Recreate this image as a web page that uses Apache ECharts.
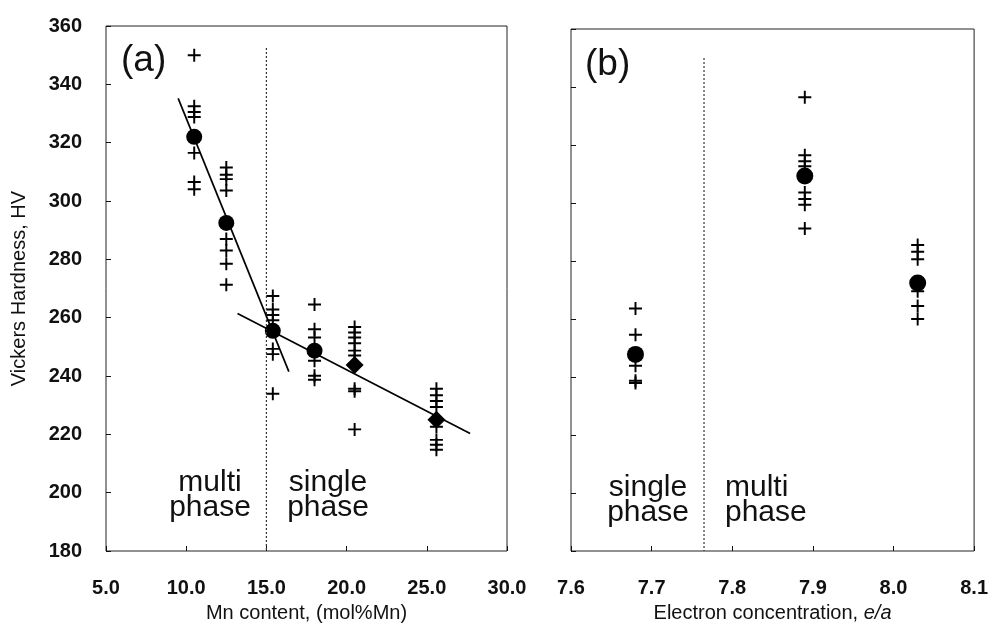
<!DOCTYPE html>
<html>
<head>
<meta charset="utf-8">
<script src="https://cdn.jsdelivr.net/npm/echarts@6/dist/echarts.min.js"></script>
<style>
  html, body { margin: 0; padding: 0; background: #fff; }
  #chart { width: 991px; height: 628px; }
</style>
</head>
<body>
<div id="chart"></div>
<script>
// panel (a): hardness vs Mn content
const mnColumns = [10.5, 12.5, 15.4, 18.0, 20.5, 25.6];
const mnCrosses = [
  [350, 332.5, 330.5, 328.8, 316.5, 306.5, 304],
  [311.5, 309, 307.5, 303.6, 287, 283, 278.5, 271.3],
  [267.4, 262.8, 260.9, 259.1, 249.3, 247.5, 233.9],
  [264.5, 256, 253.2, 245.2, 240.1, 238.7],
  [256.8, 254.9, 253.2, 251.2, 248.7, 247, 235.6, 234.8, 221.7],
  [235.6, 233.4, 231.4, 229.4, 222.6, 218.1, 216.4, 214.7]
];
const mnMeanX = [10.5, 12.5, 15.4, 18.0];
const mnMeanY = [322, 292.5, 255.5, 248.7];
const mnMeanDiamondX = [20.5, 25.6];
const mnMeanDiamondY = [243.8, 225];
const fitSteep = [[9.5, 335.2], [16.4, 241.5]];
const fitShallow = [[13.2, 261.4], [27.7, 220.3]];
const mnBoundary = [[15.0, 352.5], [15.0, 180]];

// panel (b): hardness vs electron concentration
const eaColumns = [7.68, 7.89, 8.03];
const eaCrosses = [
  [263.6, 254.6, 243.9, 238.7, 237.9],
  [336.5, 316.5, 314.4, 312.7, 303.6, 301.4, 299.4, 291.2],
  [285.5, 283.2, 280.6, 269.6, 264.5, 260]
];
const eaMeanY = [247.8, 309.3, 272.4];
const eaBoundary = [[7.765, 350], [7.765, 180]];

const plus = 'path://M5.1,0H6.9V5.1H12V6.9H6.9V12H5.1V6.9H0V5.1H5.1Z';
const font = 'Liberation Sans, Arial, sans-serif';

function crossPoints(cols, ys) {
  let pts = [];
  cols.forEach((x, i) => ys[i].forEach((y) => pts.push([x, y])));
  return pts;
}
function zip(xs, ys) {
  return xs.map((x, i) => [x, ys[i]]);
}

let chart = echarts.init(document.getElementById('chart'), null, { renderer: 'canvas' });

const tickStyle = { show: true, inside: true, length: 5, lineStyle: { color: '#111', width: 1 } };
const labelStyle = { fontFamily: font, fontSize: 20, fontWeight: 'bold', color: '#111' };
const nameStyle = { fontFamily: font, fontSize: 20, color: '#111' };
const black = { color: '#000', opacity: 1 };

let option = {
  backgroundColor: '#fff',
  animation: false,
  grid: [
    { left: 106, top: 26, width: 401, height: 529, show: true, borderColor: '#222', borderWidth: 1 },
    { left: 571, top: 29, width: 406, height: 527, show: true, borderColor: '#222', borderWidth: 1 }
  ],
  xAxis: [
    {
      gridIndex: 0, type: 'value', min: 5, max: 30, interval: 5,
      axisLine: { show: false }, axisTick: tickStyle, splitLine: { show: false },
      axisLabel: Object.assign({ margin: 27, formatter: (v) => v.toFixed(1) }, labelStyle),
      name: 'Mn content, (mol%Mn)', nameLocation: 'middle', nameGap: 52,
      nameTextStyle: nameStyle
    },
    {
      gridIndex: 1, type: 'value', min: 7.6, max: 8.1, interval: 0.1,
      axisLine: { show: false }, axisTick: tickStyle, splitLine: { show: false },
      axisLabel: Object.assign({ margin: 27, formatter: (v) => v.toFixed(1) }, labelStyle),
      name: 'Electron concentration, {i|e/a}', nameLocation: 'middle', nameGap: 52,
      nameTextStyle: Object.assign({
        rich: { i: { fontFamily: font, fontSize: 20, fontStyle: 'italic', color: '#111' } }
      }, nameStyle)
    }
  ],
  yAxis: [
    {
      gridIndex: 0, type: 'value', min: 180, max: 360, interval: 20,
      axisLine: { show: false }, axisTick: tickStyle, splitLine: { show: false },
      axisLabel: Object.assign({ margin: 24 }, labelStyle),
      name: 'Vickers Hardness, HV', nameLocation: 'middle', nameGap: 77,
      nameTextStyle: nameStyle
    },
    {
      gridIndex: 1, type: 'value', min: 180, max: 360, interval: 20,
      axisLine: { show: false }, axisTick: tickStyle, splitLine: { show: false },
      axisLabel: { show: false }
    }
  ],
  series: [
    {
      type: 'line', xAxisIndex: 0, yAxisIndex: 0, data: mnBoundary, symbol: 'none',
      lineStyle: { color: '#333', width: 1.2, type: [2, 2] }
    },
    {
      type: 'line', xAxisIndex: 0, yAxisIndex: 0, data: fitSteep, symbol: 'none',
      lineStyle: { color: '#000', width: 1.7 }
    },
    {
      type: 'line', xAxisIndex: 0, yAxisIndex: 0, data: fitShallow, symbol: 'none',
      lineStyle: { color: '#000', width: 1.7 }
    },
    {
      type: 'scatter', xAxisIndex: 0, yAxisIndex: 0, data: crossPoints(mnColumns, mnCrosses),
      symbol: plus, symbolSize: 13, itemStyle: black
    },
    {
      type: 'scatter', xAxisIndex: 0, yAxisIndex: 0, data: zip(mnMeanX, mnMeanY),
      symbol: 'circle', symbolSize: 16, itemStyle: black
    },
    {
      type: 'scatter', xAxisIndex: 0, yAxisIndex: 0, data: zip(mnMeanDiamondX, mnMeanDiamondY),
      symbol: 'diamond', symbolSize: 18, itemStyle: black
    },
    {
      type: 'line', xAxisIndex: 1, yAxisIndex: 1, data: eaBoundary, symbol: 'none',
      lineStyle: { color: '#333', width: 1.2, type: [2, 2] }
    },
    {
      type: 'scatter', xAxisIndex: 1, yAxisIndex: 1, data: crossPoints(eaColumns, eaCrosses),
      symbol: plus, symbolSize: 13, itemStyle: black
    },
    {
      type: 'scatter', xAxisIndex: 1, yAxisIndex: 1, data: zip(eaColumns, eaMeanY),
      symbol: 'circle', symbolSize: 17, itemStyle: black
    }
  ],
  graphic: [
    { type: 'text', left: 121, top: 42, style: { text: '(a)', font: '37px ' + font, fill: '#111' } },
    { type: 'text', left: 585, top: 46, style: { text: '(b)', font: '37px ' + font, fill: '#111' } },
    { type: 'text', x: 210, y: 470, style: { text: 'multi\nphase', font: '30px ' + font, fill: '#111', align: 'center', lineHeight: 25 } },
    { type: 'text', x: 328, y: 470, style: { text: 'single\nphase', font: '30px ' + font, fill: '#111', align: 'center', lineHeight: 25 } },
    { type: 'text', x: 648, y: 475, style: { text: 'single\nphase', font: '30px ' + font, fill: '#111', align: 'center', lineHeight: 25 } },
    { type: 'text', x: 725, y: 475, style: { text: 'multi\nphase', font: '30px ' + font, fill: '#111', align: 'left', lineHeight: 25 } }
  ]
};

chart.setOption(option);

window.addEventListener('resize', function () {
  chart.resize();
});
</script>
</body>
</html>
